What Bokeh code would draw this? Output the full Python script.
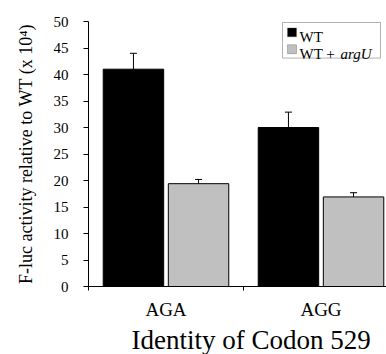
from bokeh.plotting import figure
from bokeh.models import (Range1d, FixedTicker, Whisker, TeeHead, Title,
                          ColumnDataSource, BoxAnnotation, Label)
from bokeh.embed import file_html
from bokeh.resources import INLINE

# ---- data ----
categories = ["AGA", "AGG"]
series_names = ["WT", "WT + ", "argU"]
wt_values = [41.0, 30.0]
wt_errors = [3.0, 2.9]
argu_values = [19.4, 16.9]
argu_errors = [0.8, 0.8]
y_ticks = [0, 5, 10, 15, 20, 25, 30, 35, 40, 45, 50]
y_title = "F-luc activity relative to WT (x 10\u2074)"
x_title = "Identity of Codon 529"

# ---- layout ----
FONT = "Liberation Serif"
W, H = 386, 354
LEFT, TOP, BOTTOM = 88, 21, 65
frame_w = W - LEFT
frame_h = H - TOP - BOTTOM
PX_PER_CAT = 155.0
x_end = frame_w / PX_PER_CAT
Y_MAX = 50.0
py = frame_h / Y_MAX

p = figure(width=W, height=H, x_range=Range1d(0, x_end), y_range=Range1d(0, Y_MAX),
           output_backend="svg", toolbar_location=None,
           min_border_left=LEFT, min_border_right=0,
           min_border_top=TOP, min_border_bottom=BOTTOM)
p.outline_line_color = None
p.grid.visible = False
p.background_fill_color = "white"
p.border_fill_color = "white"

centers = [i + 0.5 for i in range(len(categories))]
wt_x = [c - 0.21 for c in centers]
argu_x = [c + 0.21 for c in centers]

p.vbar(x=wt_x, top=wt_values, width=0.39, bottom=0,
       fill_color="black", line_color="black", line_width=1)
p.vbar(x=argu_x, top=argu_values, width=0.39, bottom=0,
       fill_color="#c0c0c0", line_color="black", line_width=1)

err_src = ColumnDataSource(data=dict(
    x=wt_x + argu_x,
    lower=wt_values + argu_values,
    upper=[v + e for v, e in zip(wt_values, wt_errors)] +
          [v + e for v, e in zip(argu_values, argu_errors)],
))
p.add_layout(Whisker(source=err_src, base="x", lower="lower", upper="upper",
                     dimension="height", lower_head=None,
                     upper_head=TeeHead(size=7, line_color="black", line_width=1),
                     line_color="black", line_width=1))

# ---- y axis ----
ya = p.yaxis[0]
ya.ticker = FixedTicker(ticks=y_ticks)
ya.major_tick_out = 5
ya.major_tick_in = 0
ya.minor_tick_out = 0
ya.minor_tick_in = 0
ya.major_label_standoff = 15
ya.major_label_text_font = FONT
ya.major_label_text_font_size = "15px"
ya.major_label_text_font_style = "normal"
ya.major_label_text_color = "black"
ya.axis_line_color = "black"
ya.major_tick_line_color = "black"
ya.axis_label = y_title
ya.axis_label_text_font = FONT
ya.axis_label_text_font_size = "18px"
ya.axis_label_text_font_style = "normal"
ya.axis_label_text_color = "black"
ya.axis_label_standoff = 15

# ---- x axis ----
xa = p.xaxis[0]
xa.ticker = FixedTicker(ticks=centers, minor_ticks=[0, 1, 2])
xa.major_label_overrides = {c: cat for c, cat in zip(centers, categories)}
xa.major_tick_out = 0
xa.major_tick_in = 0
xa.minor_tick_out = 4
xa.minor_tick_in = 0
xa.major_label_standoff = 8
xa.major_label_text_font = FONT
xa.major_label_text_font_size = "19px"
xa.major_label_text_font_style = "normal"
xa.major_label_text_line_height = 0.9
xa.major_label_text_color = "black"
xa.axis_line_color = "black"
xa.minor_tick_line_color = "black"

# x axis title as a Title placed below the axis
p.add_layout(Title(text=x_title, align="left", offset=43, text_font=FONT,
                   text_font_size="27px", text_font_style="normal",
                   text_line_height=0.9,
                   text_color="black", standoff=0), "below")


def dx(px):
    return px / PX_PER_CAT


def dy(px):
    return Y_MAX - px / py


# ---- legend (drawn by hand for the italic "argU") ----
# pixel offsets measured from the frame's top-left corner
p.add_layout(BoxAnnotation(left=dx(194), right=dx(292), top=dy(1), bottom=dy(37),
                           fill_color="white", fill_alpha=1, line_color="black",
                           line_width=1, level="overlay"))
sq = 9
rows = [(11, "black"), (28, "#c0c0c0")]
for (cy, col) in rows:
    p.add_layout(BoxAnnotation(left=dx(199), right=dx(199 + sq),
                               top=dy(cy - sq / 2), bottom=dy(cy + sq / 2),
                               fill_color=col, fill_alpha=1, line_color="#444444",
                               line_width=1, level="overlay"))
p.add_layout(Label(x=dx(211), y=dy(16), text=series_names[0], text_font=FONT,
                   text_font_size="15px", text_color="black", text_baseline="alphabetic",
                   level="overlay"))
p.add_layout(Label(x=dx(211), y=dy(33), text=series_names[1], text_font=FONT,
                   text_font_size="15px", text_color="black", text_baseline="alphabetic",
                   level="overlay"))
p.add_layout(Label(x=dx(252), y=dy(33), text=series_names[2], text_font=FONT,
                   text_font_size="15px", text_font_style="italic", text_color="black",
                   text_baseline="alphabetic", level="overlay"))

open("out.html", "w").write(file_html(p, INLINE))
